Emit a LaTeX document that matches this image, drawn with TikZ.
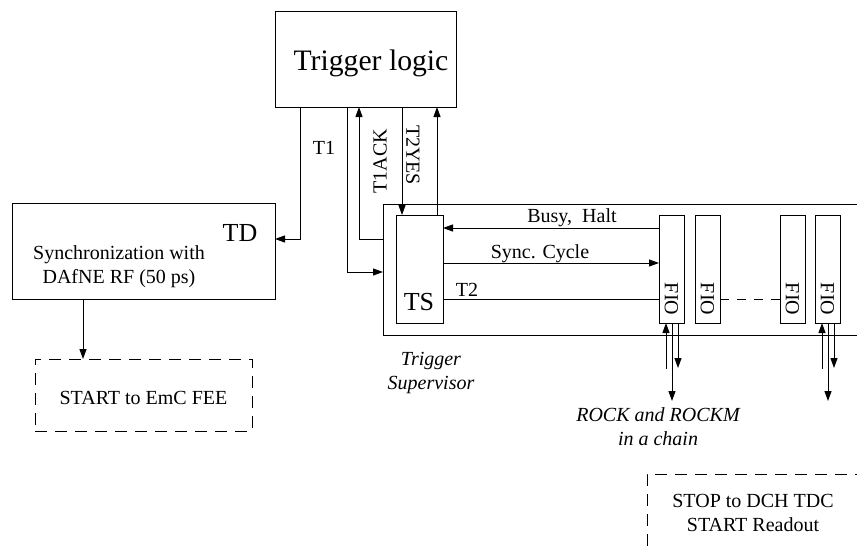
\documentclass[tikz,border=0pt]{standalone}
\usepackage{fontspec}
\setmainfont{Liberation Serif}
\usetikzlibrary{arrows.meta}
\begin{document}
\begin{tikzpicture}[x=1pt,y=-1pt,
  every node/.style={inner sep=0pt, outer sep=0pt},
  box/.style={draw, line width=1pt, anchor=north west},
  dbox/.style={box, dash pattern=on 12pt off 8pt},
  lab/.style={font=\fontsize{20}{24}\selectfont},
  big/.style={font=\fontsize{26}{30}\selectfont},
  ital/.style={font=\fontsize{20}{24}\selectfont\itshape},
  wire/.style={line width=1pt},
  arr/.style={wire, -{Triangle[length=10pt,width=7pt]}},
]
\useasboundingbox (0,0) rectangle (857,554);
\clip (0,0) rectangle (857,554);
\fill[white] (0,0) rectangle (857,554);

% Trigger logic
\node[box, minimum width=181pt, minimum height=96pt] (trig) at (275,11) {};
\node[font=\fontsize{29.7}{34}\selectfont] (trigtxt) at (371,63) {Trigger logic};

% Trigger distributor
\node[box, minimum width=263pt, minimum height=96pt] (td) at (12,203) {};
\node[big] (tdtxt) at (240,233) {TD};
\node[lab, align=center] (synctxt) at (119,267) {Synchronization with\\DAfNE RF (50 ps)};

% EmC start
\node[dbox, minimum width=217pt, minimum height=72pt] (emc) at (35,359) {};
\node[lab] (emctxt) at (143.5,398) {START to EmC FEE};

% Crate with trigger supervisor and FIO boards
\node[box, minimum width=520pt, minimum height=131pt] (crate) at (383,204) {};
\node[box, minimum width=47pt, minimum height=108pt] (ts) at (396,215) {};
\node[big] (tstxt) at (419,302) {TS};
\foreach \n/\x in {1/659,2/695,3/780,4/815} {
  \node[box, minimum width=25pt, minimum height=108pt] (fio\n) at (\x,215) {};
  \node[lab, rotate=-90] (fiotxt\n) at (\x+12.5,299) {FIO};
}

% DCH stop
\node[dbox, minimum width=300pt, minimum height=120pt] (stop) at (647,474) {};
\node[lab, align=center] (stoptxt) at (753,513) {STOP to DCH TDC\\START Readout};

% signal channels
\coordinate (xT1) at (300,0);
\coordinate (xTS) at (347,0);
\coordinate (xAck) at (359,0);
\coordinate (xYes) at (402,0);
\coordinate (xUp) at (437,0);
\coordinate (xTD) at (83,0);
\coordinate (yT1) at (0,239);
\coordinate (yTS) at (0,272);
\coordinate (yBusy) at (0,228);
\coordinate (ySync) at (0,263);
\coordinate (yT2) at (0,299);

\draw[arr] (trig.south -| xT1) |- (td.east |- yT1);
\draw[arr] (trig.south -| xTS) |- (crate.west |- yTS);
\draw[arr] (crate.west |- yT1) -| (trig.south -| xAck);
\draw[arr] (trig.south -| xYes) -- (ts.north -| xYes);
\draw[arr] (ts.north -| xUp) -- (trig.south -| xUp);
\draw[arr] (fio1.west |- yBusy) -- (ts.east |- yBusy);
\draw[arr] (ts.east |- ySync) -- (fio1.west |- ySync);
\draw[wire] (ts.east |- yT2) -- (fio1.west |- yT2);
\draw[wire, dash pattern=on 9pt off 8pt] (fio2.east |- yT2) -- (fio3.west |- yT2);
\draw[arr] (td.south -| xTD) -- (emc.north -| xTD);

% readout chain links below the FIO boards
\foreach \n in {1,4} {
  \coordinate (in\n) at ([xshift=7pt, yshift=-46pt]fio\n.south west);
  \coordinate (outA\n) at ([xshift=13pt, yshift=-78pt]fio\n.south west);
  \coordinate (outB\n) at ([xshift=19pt, yshift=-45pt]fio\n.south west);
  \draw[arr] (in\n) -- (in\n |- fio\n.south);
  \draw[arr] (fio\n.south -| outA\n) -- (outA\n);
  \draw[arr] (fio\n.south -| outB\n) -- (outB\n);
}

% signal labels
\node[lab] (t1lab) at (324,148) {T1};
\node[lab] (t2lab) at (467,290) {T2};
\node[lab, rotate=90] (acklab) at (380,161) {T1ACK};
\node[lab, rotate=-90] (yeslab) at (413,155) {T2YES};
\node[lab] (busylab) at (572,218) {Busy,\ \ Halt};
\node[lab] (synclab) at (540,254) {Sync. Cycle};
\node[ital, align=center] (tslab) at (431,373) {Trigger\\Supervisor};
\node[ital, align=center] (rocklab) at (658,427) {ROCK and ROCKM\\in a chain};
\end{tikzpicture}
\end{document}
